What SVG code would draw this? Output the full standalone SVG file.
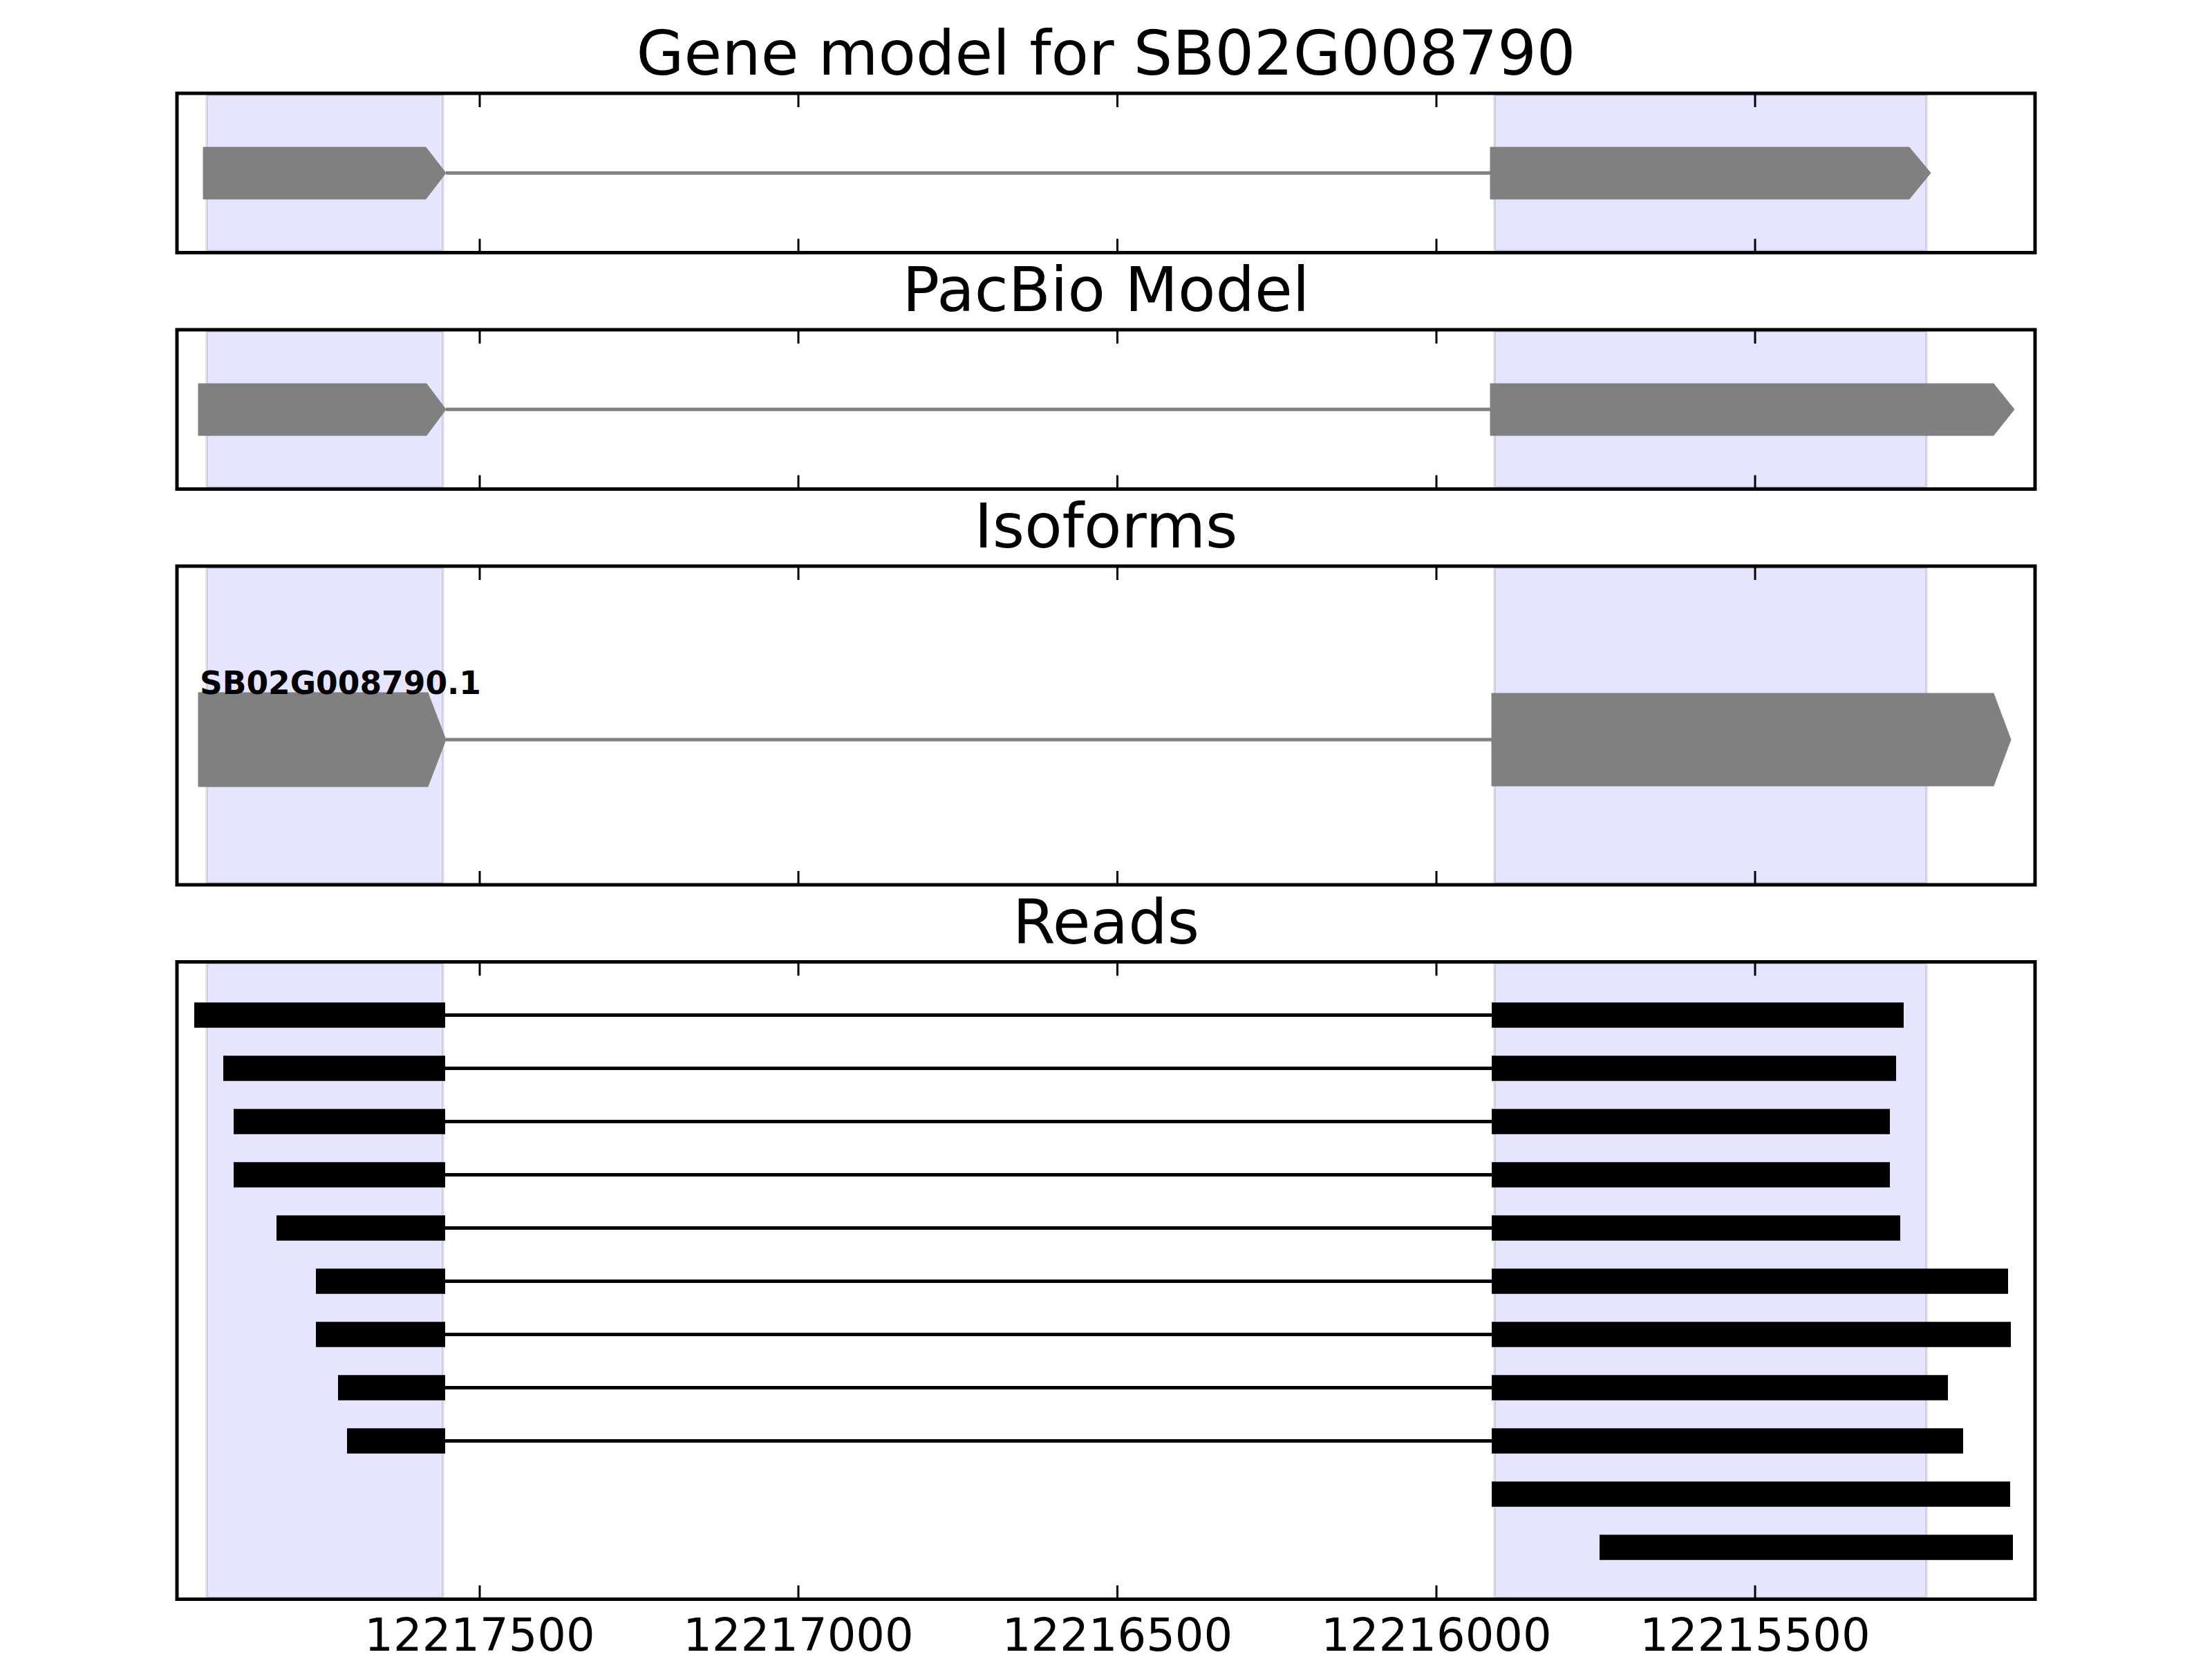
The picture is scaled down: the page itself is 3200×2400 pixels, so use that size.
<svg xmlns="http://www.w3.org/2000/svg" width="3200" height="2400" viewBox="0 0 3200 2400">
<defs>
<style>
.title{font-family:"DejaVu Sans","Liberation Sans",sans-serif;font-size:89px;fill:#000;text-anchor:middle}
.tick{font-family:"DejaVu Sans","Liberation Sans",sans-serif;font-size:65.5px;fill:#000;text-anchor:middle}
.lbl{font-family:"DejaVu Sans","Liberation Sans",sans-serif;font-size:45.5px;font-weight:bold;fill:#000}
.span{fill:#0000ff;fill-opacity:0.1;stroke:#000;stroke-opacity:0.1;stroke-width:4}
.frame{fill:none;stroke:#000;stroke-width:5}
.tk{stroke:#000;stroke-width:3}
.exon{fill:#808080;stroke:#808080;stroke-width:1}
.intron{stroke:#808080;stroke-width:5}
.rintron{stroke:#000;stroke-width:5}
.read{fill:#000}
</style>
</defs>
<rect width="3200" height="2400" fill="#fff"/>

<!-- Panel 1: Gene model -->
<g id="panel-gene-model">
<text class="title" x="1600" y="108">Gene model for SB02G008790</text>
<rect class="span" x="299" y="137" width="342" height="226"/>
<rect class="span" x="2162" y="137" width="625" height="226"/>
<g id="gene-exon-1"><polygon class="exon" points="294,213 616,213 645,250.25 616,288 294,288"/></g>
<g id="gene-exon-2"><polygon class="exon" points="2156,213 2762,213 2793,250.25 2762,288 2156,288"/></g>
<rect class="frame" x="256" y="135" width="2688" height="230.5"/>
<path class="tk" d="M694,135v20M1155,135v20M1616.5,135v20M2078,135v20M2539,135v20M694,365.5v-20M1155,365.5v-20M1616.5,365.5v-20M2078,365.5v-20M2539,365.5v-20"/>
</g>

<!-- Panel 2: PacBio -->
<g id="panel-pacbio">
<text class="title" x="1600" y="450">PacBio Model</text>
<rect class="span" x="299" y="479" width="342" height="226"/>
<rect class="span" x="2162" y="479" width="625" height="226"/>
<g id="pacbio-exon-1"><polygon class="exon" points="287,555 617,555 645,592.25 617,630 287,630"/></g>
<g id="pacbio-exon-2"><polygon class="exon" points="2156,555 2884,555 2914,592.25 2884,630 2156,630"/></g>
<rect class="frame" x="256" y="477" width="2688" height="230.5"/>
<path class="tk" d="M694,477v20M1155,477v20M1616.5,477v20M2078,477v20M2539,477v20M694,707.5v-20M1155,707.5v-20M1616.5,707.5v-20M2078,707.5v-20M2539,707.5v-20"/>
</g>

<!-- Panel 3: Isoforms -->
<g id="panel-isoforms">
<text class="title" x="1600" y="792">Isoforms</text>
<rect class="span" x="299" y="821" width="342" height="457"/>
<rect class="span" x="2162" y="821" width="625" height="457"/>
<g id="iso-exon-1"><polygon class="exon" points="287,1002 619,1002 645,1070 619,1138 287,1138"/></g>
<g id="iso-exon-2"><polygon class="exon" points="2158,1003 2884,1003 2909,1070 2884,1137 2158,1137"/></g>
<text class="lbl" x="289" y="1004">SB02G008790.1</text>
<rect class="frame" x="256" y="819" width="2688" height="461"/>
<path class="tk" d="M694,819v20M1155,819v20M1616.5,819v20M2078,819v20M2539,819v20M694,1280v-20M1155,1280v-20M1616.5,1280v-20M2078,1280v-20M2539,1280v-20"/>
</g>

<!-- Panel 4: Reads -->
<g id="panel-reads">
<text class="title" x="1600" y="1364.5">Reads</text>
<rect class="span" x="299" y="1393.5" width="342" height="918"/>
<rect class="span" x="2162" y="1393.5" width="625" height="918"/>
</g>

<g id="connectors">
<line class="intron" x1="645" y1="250.25" x2="2156" y2="250.25"/>
<line class="intron" x1="645" y1="592.25" x2="2156" y2="592.25"/>
<line class="intron" x1="645" y1="1070" x2="2158" y2="1070"/>
<line class="rintron" x1="644" y1="1468.5" x2="2158" y2="1468.5"/>
<line class="rintron" x1="644" y1="1545.5" x2="2158" y2="1545.5"/>
<line class="rintron" x1="644" y1="1622.5" x2="2158" y2="1622.5"/>
<line class="rintron" x1="644" y1="1699.5" x2="2158" y2="1699.5"/>
<line class="rintron" x1="644" y1="1776.5" x2="2158" y2="1776.5"/>
<line class="rintron" x1="644" y1="1853.5" x2="2158" y2="1853.5"/>
<line class="rintron" x1="644" y1="1930.5" x2="2158" y2="1930.5"/>
<line class="rintron" x1="644" y1="2007.5" x2="2158" y2="2007.5"/>
<line class="rintron" x1="644" y1="2084.5" x2="2158" y2="2084.5"/>
</g>

<g id="read-1"><rect class="read" x="281" y="1450.25" width="363" height="36.5"/><rect class="read" x="2158" y="1450.25" width="596" height="36.5"/></g>
<g id="read-2"><rect class="read" x="323" y="1527.25" width="321" height="36.5"/><rect class="read" x="2158" y="1527.25" width="585" height="36.5"/></g>
<g id="read-3"><rect class="read" x="338" y="1604.25" width="306" height="36.5"/><rect class="read" x="2158" y="1604.25" width="576" height="36.5"/></g>
<g id="read-4"><rect class="read" x="338" y="1681.25" width="306" height="36.5"/><rect class="read" x="2158" y="1681.25" width="576" height="36.5"/></g>
<g id="read-5"><rect class="read" x="400" y="1758.25" width="244" height="36.5"/><rect class="read" x="2158" y="1758.25" width="591" height="36.5"/></g>
<g id="read-6"><rect class="read" x="457" y="1835.25" width="187" height="36.5"/><rect class="read" x="2158" y="1835.25" width="747" height="36.5"/></g>
<g id="read-7"><rect class="read" x="457" y="1912.25" width="187" height="36.5"/><rect class="read" x="2158" y="1912.25" width="751" height="36.5"/></g>
<g id="read-8"><rect class="read" x="489" y="1989.25" width="155" height="36.5"/><rect class="read" x="2158" y="1989.25" width="660" height="36.5"/></g>
<g id="read-9"><rect class="read" x="502" y="2066.25" width="142" height="36.5"/><rect class="read" x="2158" y="2066.25" width="682" height="36.5"/></g>
<g id="read-10"><rect class="read" x="2158" y="2143.25" width="750" height="36.5"/></g>
<g id="read-11"><rect class="read" x="2314" y="2220.25" width="598" height="36.5"/></g>

<g id="reads-axes">
<rect class="frame" x="256" y="1391.5" width="2688" height="922"/>
<path class="tk" d="M694,1391.5v20M1155,1391.5v20M1616.5,1391.5v20M2078,1391.5v20M2539,1391.5v20M694,2313.5v-20M1155,2313.5v-20M1616.5,2313.5v-20M2078,2313.5v-20M2539,2313.5v-20"/>
<text class="tick" x="694" y="2388">12217500</text>
<text class="tick" x="1155" y="2388">12217000</text>
<text class="tick" x="1616.5" y="2388">12216500</text>
<text class="tick" x="2078" y="2388">12216000</text>
<text class="tick" x="2539" y="2388">12215500</text>
</g>
</svg>
